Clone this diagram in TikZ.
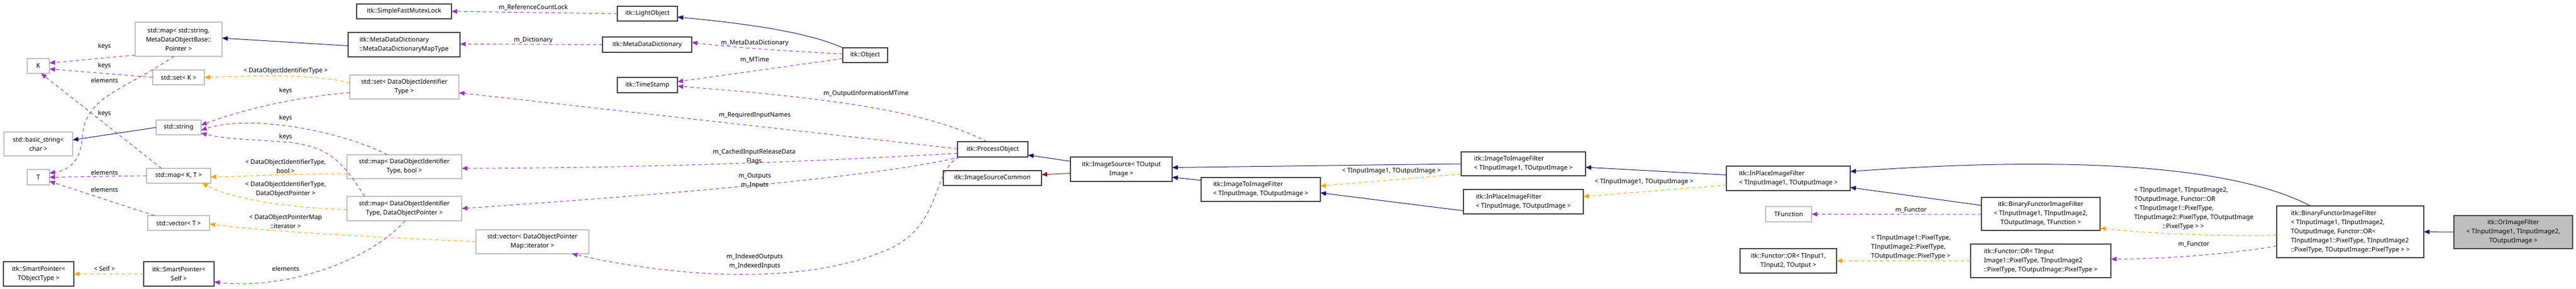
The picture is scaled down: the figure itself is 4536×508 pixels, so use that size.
\documentclass[tikz,border=0pt]{standalone}
\usepackage{fontspec}
\setmainfont{Noto Sans}
\usetikzlibrary{arrows.meta}
\definecolor{pur}{HTML}{9A32CD}
\definecolor{org}{HTML}{FFA500}
\definecolor{nav}{HTML}{191970}
\definecolor{fir}{HTML}{8B1A1A}
\definecolor{gbd}{HTML}{BFBFBF}
\definecolor{bbd}{HTML}{404040}
\newcommand\bx[7]{\node[#6, minimum width={(#4-#2)*1pt}, minimum height={(#5-#3)*1pt}] (#1) at ({(#2+#4)/2},{(#3+#5)/2}) {#7};}
\begin{document}
\begin{tikzpicture}[x=1pt,y=-1pt,
  font=\fontsize{11}{16}\selectfont,
  base/.style={draw, inner sep=2pt, outer sep=0pt, align=center},
  bk/.style={base, draw=bbd, line width=1.2pt},
  gy/.style={base, draw=gbd, line width=1.2pt},
  bkl/.style={bk, align=left},
  me/.style={fill=gbd},
  tip/.style={-{Triangle[length=10pt,width=8pt]}},
  pe/.style={tip, draw=pur, dash pattern=on 6pt off 5pt, line width=1pt},
  oe/.style={tip, draw=org, dash pattern=on 6pt off 5pt, line width=1pt},
  ne/.style={tip, draw=nav, line width=1pt},
  re/.style={tip, draw=fir, line width=1pt},
  lbl/.style={align=center, inner sep=0pt}]
\useasboundingbox (0,0) rectangle (4536,508);
% nodes
\bx{K}{48}{103}{87}{129}{gy}{K}
\bx{mapS}{238}{39}{391}{99}{gy}{std::map< std::string,\\MetaDataObjectBase::\\Pointer >}
\bx{setK}{269}{123}{360}{149}{gy}{std::set< K >}
\bx{str}{275}{211}{354}{237}{gy}{std::string}
\bx{bstr}{7}{232}{128}{274}{gy}{std::basic\_string<\\char >}
\bx{T}{48}{298}{87}{325}{gy}{T}
\bx{mapKT}{258}{296}{371}{322}{gy}{std::map< K, T >}
\bx{vecT}{260}{379}{369}{405}{gy}{std::vector< T >}
\bx{spT}{6}{460}{130}{503}{bk}{itk::SmartPointer<\\TObjectType >}
\bx{spS}{253}{460}{377}{503}{bk}{itk::SmartPointer<\\Self >}
\bx{mutex}{628}{7}{795}{33}{bk}{itk::SimpleFastMutexLock}
\bx{mdm}{613}{57}{810}{100}{bkl}{itk::MetaDataDictionary\\::MetaDataDictionaryMapType}
\bx{setD}{616}{132}{808}{174}{gy}{std::set< DataObjectIdentifier\\Type >}
\bx{mapB}{611}{272}{813}{314}{gy}{std::map< DataObjectIdentifier\\Type, bool >}
\bx{mapP}{611}{345}{813}{388}{gy}{std::map< DataObjectIdentifier\\Type, DataObjectPointer >}
\bx{vecD}{838}{404}{1037}{446}{gy}{std::vector< DataObjectPointer\\Map::iterator >}
\bx{light}{1087}{11}{1193}{37}{bk}{itk::LightObject}
\bx{mdd}{1061}{65}{1218}{92}{bk}{itk::MetaDataDictionary}
\bx{ts}{1087}{136}{1193}{163}{bk}{itk::TimeStamp}
\bx{obj}{1484}{84}{1563}{110}{bk}{itk::Object}
\bx{po}{1686}{249}{1810}{276}{bk}{itk::ProcessObject}
\bx{isc}{1661}{300}{1834}{326}{bk}{itk::ImageSourceCommon}
\bx{is}{1885}{276}{2064}{319}{bk}{itk::ImageSource< TOutput\\Image >}
\bx{iti}{2115}{312}{2325}{354}{bkl}{itk::ImageToImageFilter\\< TInputImage, TOutputImage >}
\bx{itia}{2573}{267}{2792}{309}{bkl}{itk::ImageToImageFilter\\< TInputImage1, TOutputImage >}
\bx{ip}{2577}{333}{2788}{376}{bkl}{itk::InPlaceImageFilter\\< TInputImage, TOutputImage >}
\bx{ipa}{3040}{292}{3258}{335}{bkl}{itk::InPlaceImageFilter\\< TInputImage1, TOutputImage >}
\bx{tf}{3109}{363}{3190}{390}{gy}{TFunction}
\bx{bf}{3489}{347}{3698}{405}{bk}{itk::BinaryFunctorImageFilter\\< TInputImage1, TInputImage2,\\TOutputImage, TFunction >}
\bx{fo}{3064}{437}{3234}{480}{bk}{itk::Functor::OR< TInput1,\\TInput2, TOutput >}
\bx{fop}{3470}{429}{3717}{488}{bkl}{itk::Functor::OR< TInput\\Image1::PixelType, TInputImage2\\::PixelType, TOutputImage::PixelType >}
\bx{bfo}{4009}{362}{4268}{453}{bkl}{itk::BinaryFunctorImageFilter\\< TInputImage1, TInputImage2,\\TOutputImage, Functor::OR<\\TInputImage1::PixelType, TInputImage2\\::PixelType, TOutputImage::PixelType > >}
\bx{orf}{4321}{379}{4530}{437}{bk,me}{itk::OrImageFilter\\< TInputImage1, TInputImage2,\\TOutputImage >}
% edges, left group
\draw[pe] (mapS.200) -- (K.15);
\draw[pe] (setK.west) -- (K.-15);
\draw[pe] (mapS.-105) .. controls (215,160) and (150,170) .. (145,240) .. controls (142,290) and (115,300) .. (T.20);
\draw[pe] ([xshift=-30pt]mapKT.north) -- (K.-70);
\draw[pe] (mapKT.west) -- (T.east);
\draw[pe] ([xshift=12pt]vecT.north west) -- (T.-20);
\draw[ne] (str.west) -- ([yshift=7pt]bstr.east);
\draw[oe] ([yshift=7pt]setD.west) .. controls (560,130) and (450,133) .. (setK.east);
\draw[pe] ([yshift=-10pt]setD.west) .. controls (520,170) and (420,195) .. ([yshift=4pt]str.east);
\draw[pe] ([xshift=-30pt]mapB.north) .. controls (600,230) and (440,200) .. ([yshift=-5pt]str.east);
\draw[pe] ([xshift=-70pt]mapP.north) .. controls (600,280) and (580,260) .. (510,250) .. controls (440,245) and (400,245) .. ([yshift=-10pt]str.east);
\draw[oe] ([yshift=-13pt]mapB.west) .. controls (500,305) and (450,310) .. ([yshift=-2pt]mapKT.east);
\draw[oe] ([yshift=-2pt]mapP.west) .. controls (480,364) and (400,345) .. ([xshift=-15pt]mapKT.south east);
\draw[oe] (vecD.west) .. controls (700,418) and (500,410) .. ([yshift=-2pt]vecT.east);
\draw[pe] ([xshift=1pt]mapP.south) .. controls (650,460) and (500,510) .. ([yshift=-14pt]spS.east);
\draw[oe] (spS.west) -- (spT.east);
\draw[ne] ([yshift=-2pt]mdm.west) -- ([yshift=2pt]mapS.east);
% middle group
\draw[pe] (light.west) -- ([yshift=0pt]mutex.east);
\draw[pe] (mdd.west) -- ([yshift=1pt]mdm.east);
\draw[ne] (obj.north west) .. controls (1420,55) and (1300,40) .. ([yshift=-6pt]light.east);
\draw[pe] ([yshift=2pt]obj.west) .. controls (1400,90) and (1300,85) .. ([yshift=4pt]mdd.east);
\draw[pe] ([yshift=-6pt]obj.west) -- ([yshift=6pt]ts.east);
\draw[pe] ([xshift=-10pt]po.north) .. controls (1640,200) and (1500,175) .. ([yshift=-2pt]ts.east);
\draw[pe] ([yshift=1pt]po.west) -- ([yshift=-10pt]setD.east);
\draw[pe] ([yshift=-7pt]po.west) .. controls (1500,280) and (1200,295) .. ([yshift=-3pt]mapB.east);
\draw[pe] ([xshift=5pt]po.south west) .. controls (1550,310) and (1200,340) .. ([yshift=0pt]mapP.east);
\draw[pe] ([xshift=3pt]po.south west) .. controls (1640,300) and (1660,400) .. (1560,440) .. controls (1420,500) and (1200,490) .. ([xshift=-30pt]vecD.south east);
\draw[ne] ([yshift=14pt]is.west) -- ([yshift=-10pt]po.east);
\draw[re] ([yshift=-7pt]is.west) -- ([yshift=6pt]isc.east);
% right group
\draw[ne] (itia.west) -- ([yshift=3pt]is.east);
\draw[ne] ([yshift=16pt]iti.west) -- ([yshift=-14pt]is.east);
\draw[ne] ([yshift=-16pt]ip.west) -- ([yshift=-6pt]iti.east);
\draw[oe] ([yshift=-18pt]itia.west) -- ([yshift=6pt]iti.east);
\draw[ne] ([yshift=6pt]ipa.west) -- ([yshift=-6pt]itia.east);
\draw[oe] ([yshift=-12pt]ipa.west) -- ([yshift=9pt]ip.east);
\draw[ne] ([yshift=15pt]bf.west) -- ([yshift=-16pt]ipa.east);
\draw[ne] ([xshift=-70pt]bfo.north) .. controls (3950,300) and (3700,270) .. ([yshift=12pt]ipa.east);
\draw[pe] ([yshift=-1pt]bf.west) -- (tf.east);
\draw[oe] (fop.west) -- (fo.east);
\draw[oe] ([yshift=-6pt]bfo.west) .. controls (3900,416) and (3780,410) .. ([yshift=-25pt]bf.east);
\draw[pe] ([yshift=-25pt]bfo.west) .. controls (3900,450) and (3800,455) .. ([yshift=3pt]fop.east);
\draw[ne] (orf.west) -- (bfo.east);
% labels
\node[lbl] (l1) at (184,82) {keys};
\node[lbl] (l2) at (184,116) {keys};
\node[lbl] (l3) at (184,141) {elements};
\node[lbl] (l4) at (184,200) {keys};
\node[lbl] (l5) at (184,303) {elements};
\node[lbl] (l6) at (184,333) {elements};
\node[lbl] (l7) at (184,472) {< Self >};
\node[lbl] (l8) at (503,125) {< DataObjectIdentifierType >};
\node[lbl] (l9) at (503,160) {keys};
\node[lbl] (l10) at (503,208) {keys};
\node[lbl] (l11) at (503,241) {keys};
\node[lbl] (l12) at (503,292) {< DataObjectIdentifierType,\\bool >};
\node[lbl] (l13) at (503,333) {< DataObjectIdentifierType,\\DataObjectPointer >};
\node[lbl] (l14) at (503,389) {< DataObjectPointerMap\\::iterator >};
\node[lbl] (l15) at (503,472) {elements};
\node[lbl] (l16) at (939,13) {m\_ReferenceCountLock};
\node[lbl] (l17) at (939,71) {m\_Dictionary};
\node[lbl] (l18) at (1329,76) {m\_MetaDataDictionary};
\node[lbl] (l19) at (1329,105) {m\_MTime};
\node[lbl] (l20) at (1525,165) {m\_OutputInformationMTime};
\node[lbl] (l21) at (1329,203) {m\_RequiredInputNames};
\node[lbl] (l22) at (1328,276) {m\_CachedInputReleaseData\\Flags};
\node[lbl] (l23) at (1329,318) {m\_Outputs\\m\_Inputs};
\node[lbl] (l24) at (1329,460) {m\_IndexedOutputs\\m\_IndexedInputs};
\node[lbl] (l25) at (2450,301) {< TInputImage1, TOutputImage >};
\node[lbl] (l26) at (2895,320) {< TInputImage1, TOutputImage >};
\node[lbl] (l27) at (3365,369) {m\_Functor};
\node[lbl, align=left] (l28) at (3365,435) {< TInputImage1::PixelType,\\TInputImage2::PixelType,\\TOutputImage::PixelType >};
\node[lbl, align=left] (l29) at (3863,367) {< TInputImage1, TInputImage2,\\TOutputImage, Functor::OR\\< TInputImage1::PixelType,\\TInputImage2::PixelType, TOutputImage\\\hspace*{50pt}::PixelType > >};
\node[lbl] (l30) at (3863,429) {m\_Functor};
\end{tikzpicture}
\end{document}
